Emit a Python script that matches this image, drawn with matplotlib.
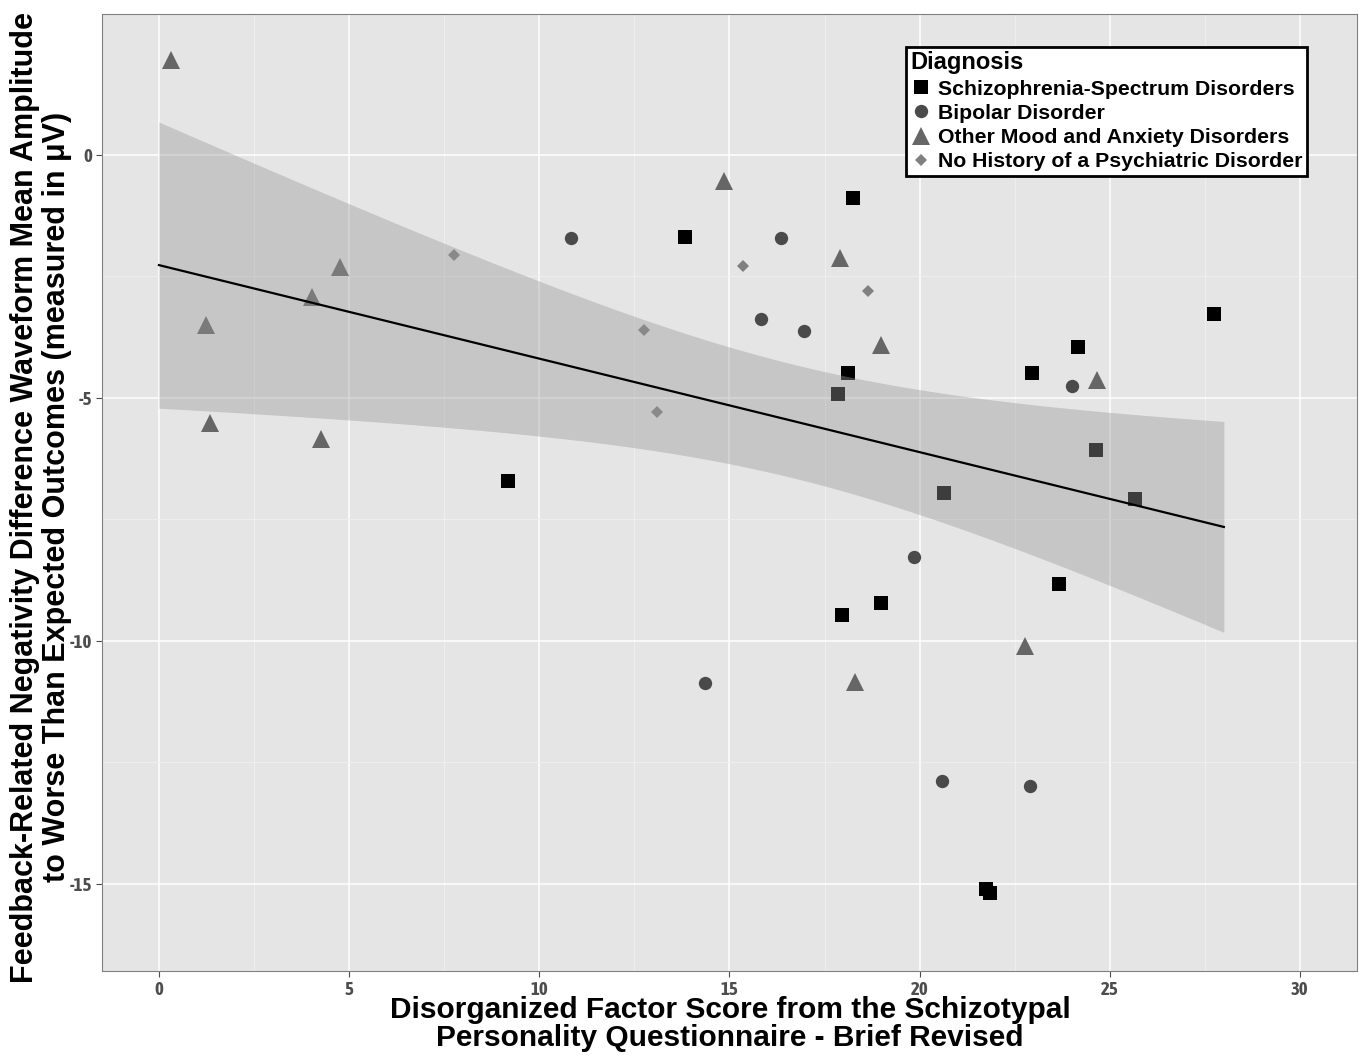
import numpy as np
import matplotlib.pyplot as plt
from matplotlib.lines import Line2D
from matplotlib import font_manager as fm

# Disorganized factor score (x) and FRN difference amplitude (y) per group
sz_x = [9.18, 13.83, 18.25, 18.12, 17.96, 18.99, 21.75, 21.85, 22.96, 24.17, 23.67, 27.74,
        17.85, 20.64, 24.64, 25.66]
sz_y = [-6.71, -1.69, -0.89, -4.49, -9.47, -9.23, -15.12, -15.20, -4.49, -3.95, -8.83, -3.27,
        -4.92, -6.96, -6.07, -7.08]

bp_x = [10.83, 14.36, 15.83, 16.36, 16.96, 19.85, 20.59, 22.90, 24.01]
bp_y = [-1.71, -10.87, -3.38, -1.71, -3.62, -8.28, -12.89, -12.99, -4.76]

mood_x = [0.32, 1.24, 1.34, 4.02, 4.26, 4.76, 14.86, 17.91, 18.30, 18.99, 22.77, 24.66]
mood_y = [1.96, -3.50, -5.52, -2.92, -5.85, -2.31, -0.54, -2.12, -10.85, -3.91, -10.11, -4.63]

hc_x = [7.76, 12.75, 13.09, 15.36, 18.64]
hc_y = [-2.06, -3.60, -5.29, -2.29, -2.80]

labels = ['Schizophrenia-Spectrum Disorders', 'Bipolar Disorder',
          'Other Mood and Anxiety Disorders', 'No History of a Psychiatric Disorder']

x_ticks = [0, 5, 10, 15, 20, 25, 30]
y_ticks = [0, -5, -10, -15]

# linear fit (line + 95% band)
fit_range = (0, 28)
fit_intercept = -2.27
fit_slope = -0.1925
band_center = 16.7
band_min_half = 1.17
band_curv = 0.0262

# narrow bold face for tick labels
tick_fp = fm.FontProperties(family=['Asap Condensed', 'DejaVu Sans'], weight='bold', size=13.5)

fig = plt.figure(figsize=(13.59, 10.57), dpi=100)
ax = fig.add_axes([0.075, 0.0814, 0.9235, 0.9054])
ax.set_facecolor('#e5e5e5')

# grid
for v in np.arange(0, 31, 5):
    ax.axvline(v, color='white', lw=1.1, zorder=0)
for v in np.arange(2.5, 31, 5):
    ax.axvline(v, color='#f0f0f0', lw=0.6, zorder=0)
for v in y_ticks:
    ax.axhline(v, color='white', lw=1.1, zorder=0)
for v in [-2.5, -7.5, -12.5]:
    ax.axhline(v, color='#f0f0f0', lw=0.6, zorder=0)

ax.plot(sz_x, sz_y, 's', color='black', ms=9.4, mew=0, zorder=2)
ax.plot(bp_x, bp_y, 'o', color='#4a4a4a', ms=9.6, mew=0, zorder=2)
ax.plot(mood_x, mood_y, '^', color='#666666', ms=12.5, mew=0, zorder=2)
ax.plot(hc_x, hc_y, 'D', color='#808080', ms=6.5, mew=0, zorder=2)

xx = np.linspace(fit_range[0], fit_range[1], 200)
yy = fit_intercept + fit_slope * xx
half = np.sqrt(band_min_half**2 + band_curv * (xx - band_center)**2)
ax.fill_between(xx, yy - half, yy + half, color='#999999', alpha=0.4, lw=0, zorder=3)
ax.plot(xx, yy, color='black', lw=1.6, zorder=4)

ax.set_xlim(-1.5, 31.5)
ax.set_ylim(-16.8, 2.9)
ax.set_xticks(x_ticks)
ax.set_xticklabels([str(v) for v in x_ticks], fontproperties=tick_fp)
ax.set_yticks(y_ticks)
ax.set_yticklabels([str(v) for v in y_ticks], fontproperties=tick_fp)
ax.tick_params(colors='#4d4d4d', length=4, width=0.8, pad=3)
for sp in ax.spines.values():
    sp.set_color('#808080')
    sp.set_linewidth(0.8)

ax.set_xlabel('Disorganized Factor Score from the Schizotypal\nPersonality Questionnaire - Brief Revised',
              fontsize=21.5, fontweight='bold', family='Liberation Sans', linespacing=1.02)
ax.xaxis.set_label_coords(0.5004, -0.026)
ax.set_ylabel('Feedback-Related Negativity Difference Waveform Mean Amplitude\n'
              'to Worse Than Expected Outcomes (measured in \u03bcV)',
              fontsize=22, fontweight='bold', family='Liberation Sans', linespacing=1.12)
ax.yaxis.set_label_coords(-0.0235, 0.4948)

handles = [
    Line2D([], [], marker='s', ls='none', color='black', ms=9.4, mew=0),
    Line2D([], [], marker='o', ls='none', color='#4a4a4a', ms=9.6, mew=0),
    Line2D([], [], marker='^', ls='none', color='#666666', ms=12.5, mew=0),
    Line2D([], [], marker='D', ls='none', color='#808080', ms=6.5, mew=0),
]
leg = ax.legend(handles, labels, title='Diagnosis', loc='upper left',
                bbox_to_anchor=(0.641, 0.9655), borderaxespad=0, frameon=True,
                fancybox=False, edgecolor='black', framealpha=1, alignment='left',
                prop={'family': 'Liberation Sans', 'weight': 'bold', 'size': 15.3},
                handlelength=1.0, handletextpad=0.3, labelspacing=0.25,
                borderpad=0.2)
leg.get_title().set_fontweight('bold')
leg.get_title().set_fontsize(17)
leg.get_title().set_family('Liberation Sans')
leg.get_frame().set_linewidth(2)
leg.set_zorder(10)

fig.savefig('out.png', dpi=100)
